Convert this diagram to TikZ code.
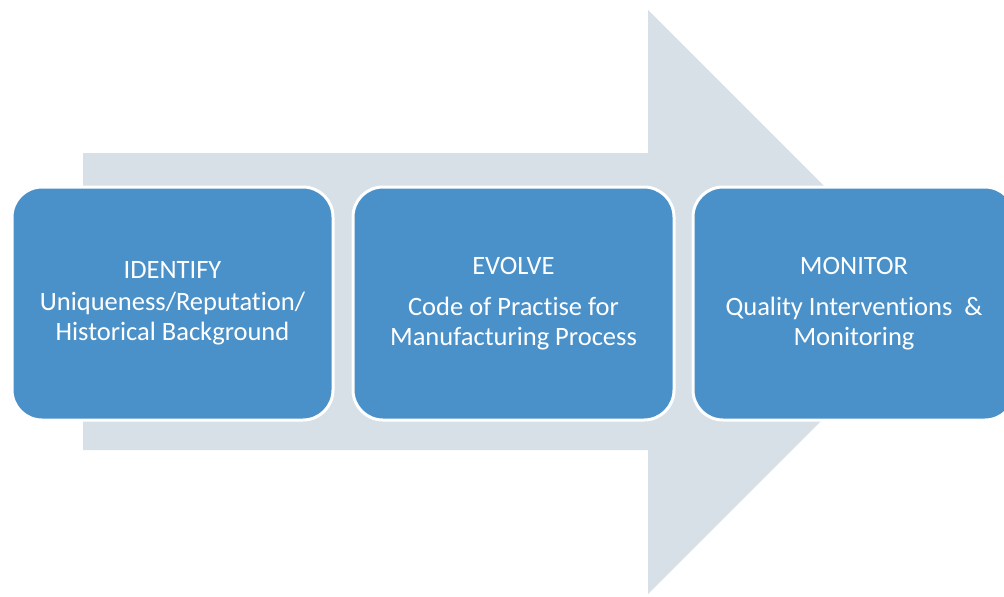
\documentclass[tikz,border=0pt]{standalone}
\usepackage{fontspec}
\setmainfont{Carlito}[RawFeature=-liga]
\definecolor{arrowgrey}{HTML}{D8E0E7}
\definecolor{boxblue}{HTML}{4B91C9}
\begin{document}
\begin{tikzpicture}[x=1pt,y=-1pt,
  stagebox/.style={rounded corners=30pt, fill=boxblue, draw=white, line width=3pt,
    minimum width=321pt, minimum height=233pt, align=center, text=white,
    font=\fontsize{26.5}{30}\selectfont, inner sep=0pt}]
\useasboundingbox (0,0) rectangle (1004,597);
\clip (0,0) rectangle (1004,597);
\fill[arrowgrey] (83,153) -- (648,153) -- (648,10) -- (940,302) -- (648,594) -- (648,450) -- (83,450) -- cycle;
\node[stagebox] (b1) at (172.5,303.5) {IDENTIFY\\[2pt]Uniqueness/Reputation/\\Historical Background};
\node[stagebox] (b2) at (513.5,303.5) {EVOLVE\\[11pt]Code of Practise for\\Manufacturing Process};
\node[stagebox, minimum width=322pt] (b3) at (854,303.5) {MONITOR\\[11pt]Quality Interventions~~\&\\Monitoring};
\end{tikzpicture}
\end{document}
